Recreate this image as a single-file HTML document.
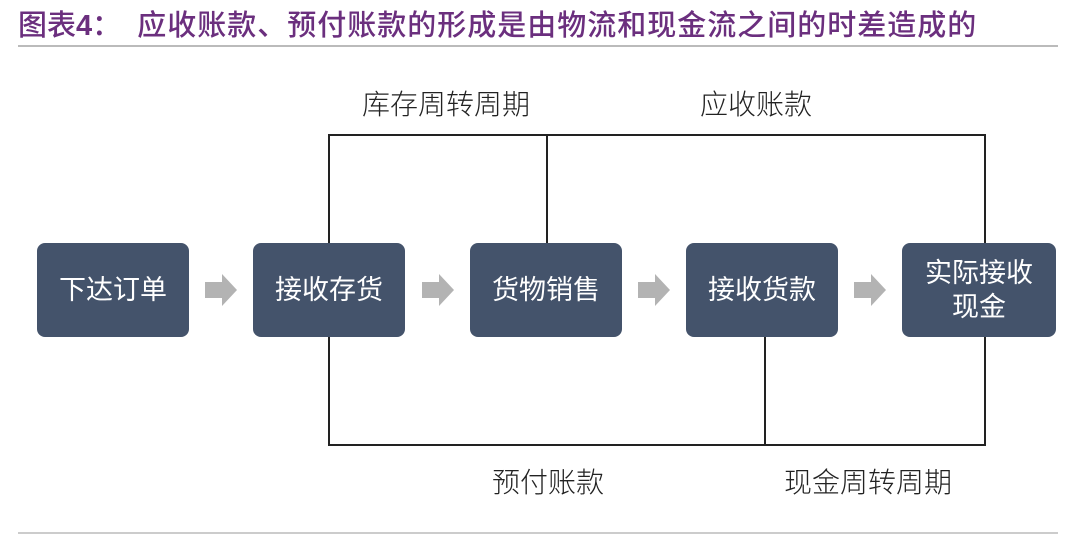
<!DOCTYPE html>
<html><head><meta charset="utf-8"><style>
body{margin:0;width:1080px;height:538px;background:#fff;position:relative;overflow:hidden;font-family:"Liberation Sans","Noto Sans CJK SC",sans-serif}
.t{position:absolute;left:18px;top:2px;font-size:29px;color:#6b2f7e;white-space:nowrap;font-weight:500}
.b{position:absolute;background:#44536b;border-radius:8px;color:#fff;font-size:27px;display:flex;align-items:center;justify-content:center;text-align:center;line-height:34px;top:243px;width:152px;height:94px}
.l{position:absolute;background:#222}
.lab{position:absolute;font-size:28px;color:#222;white-space:nowrap;transform:translateX(-50%);font-weight:300}
</style></head><body>
<div class="t">图表<b>4</b>：&nbsp;&nbsp;<span style="letter-spacing:1px">应收账款、预付账款的形成是由物流和现金流之间的时差造成的</span></div>
<div style="position:absolute;left:18px;top:45px;width:1040px;height:2px;background:#bbb"></div>
<div style="position:absolute;left:18px;top:532px;width:1040px;height:2px;background:#ccc"></div>

<div class="l" style="left:328px;top:134px;width:658px;height:2px"></div>
<div class="l" style="left:328px;top:134px;width:2px;height:110px"></div>
<div class="l" style="left:546px;top:134px;width:2px;height:110px"></div>
<div class="l" style="left:984px;top:134px;width:2px;height:110px"></div>
<div class="l" style="left:328px;top:444px;width:658px;height:2px"></div>
<div class="l" style="left:328px;top:336px;width:2px;height:110px"></div>
<div class="l" style="left:764px;top:336px;width:2px;height:110px"></div>
<div class="l" style="left:984px;top:336px;width:2px;height:110px"></div>

<div class="b" style="left:37px">下达订单</div>
<div class="b" style="left:253px">接收存货</div>
<div class="b" style="left:470px">货物销售</div>
<div class="b" style="left:686px">接收货款</div>
<div class="b" style="left:902px;width:154px">实际接收<br>现金</div>

<svg style="position:absolute;left:0;top:0" width="1080" height="538">
<g fill="#b3b3b3">
<polygon points="205,282 222,282 222,274 237,290 222,306 222,298 205,298"/>
<polygon points="422,282 439,282 439,274 454,290 439,306 439,298 422,298"/>
<polygon points="638,282 655,282 655,274 670,290 655,306 655,298 638,298"/>
<polygon points="854,282 871,282 871,274 886,290 871,306 871,298 854,298"/>
</g></svg>

<div class="lab" style="left:446px;top:83px">库存周转周期</div>
<div class="lab" style="left:756px;top:83px">应收账款</div>
<div class="lab" style="left:548px;top:461px">预付账款</div>
<div class="lab" style="left:868px;top:461px">现金周转周期</div>
</body></html>
